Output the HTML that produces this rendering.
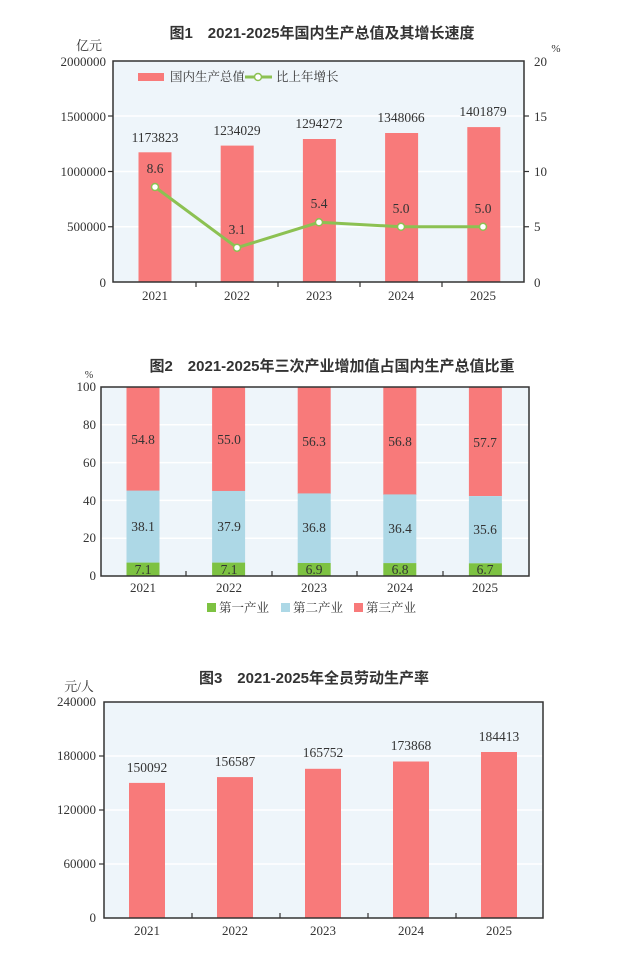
<!DOCTYPE html>
<html><head><meta charset="utf-8"><style>
body{margin:0;background:#fff}
svg text{font-family:"Liberation Serif","Noto Serif CJK SC",serif;fill:#333}
.t{font-family:"Liberation Sans","Noto Sans CJK SC",sans-serif;font-weight:bold;font-size:15px;fill:#333}
</style></head><body>
<svg width="644" height="968" viewBox="0 0 644 968" xmlns="http://www.w3.org/2000/svg">
<!-- Chart 1 -->
<text class="t" x="322" y="38" text-anchor="middle">图1　2021-2025年国内生产总值及其增长速度</text>
<text x="89" y="50" font-size="13" text-anchor="middle">亿元</text>
<text x="556" y="52" font-size="11" text-anchor="middle">%</text>
<rect x="113" y="61" width="411" height="221" fill="#eef5fa"/>
<g stroke="#fff" stroke-width="1.5"><line x1="113" y1="116" x2="524" y2="116"/><line x1="113" y1="171.5" x2="524" y2="171.5"/><line x1="113" y1="226.75" x2="524" y2="226.75"/></g>
<g fill="#f87a7a">
<rect x="138.5" y="152.3" width="33" height="129.7"/><rect x="220.7" y="145.6" width="33" height="136.4"/><rect x="302.9" y="139" width="33" height="143"/><rect x="385.1" y="133" width="33" height="149"/><rect x="467.3" y="127.1" width="33" height="154.9"/>
</g>
<rect x="113" y="61" width="411" height="221" fill="none" stroke="#333" stroke-width="1.5"/>
<g stroke="#333" stroke-width="1.2"><line x1="113" y1="116" x2="108" y2="116"/><line x1="113" y1="171.5" x2="108" y2="171.5"/><line x1="113" y1="226.75" x2="108" y2="226.75"/>
<line x1="524" y1="116" x2="529" y2="116"/><line x1="524" y1="171.5" x2="529" y2="171.5"/><line x1="524" y1="226.75" x2="529" y2="226.75"/>
<line x1="196" y1="282" x2="196" y2="287"/><line x1="278" y1="282" x2="278" y2="287"/><line x1="360" y1="282" x2="360" y2="287"/><line x1="442" y1="282" x2="442" y2="287"/></g>
<g font-size="13" text-anchor="end"><text x="106" y="66">2000000</text><text x="106" y="121">1500000</text><text x="106" y="176">1000000</text><text x="106" y="231">500000</text><text x="106" y="287">0</text></g>
<g font-size="13" text-anchor="start"><text x="534" y="66">20</text><text x="534" y="121">15</text><text x="534" y="176">10</text><text x="534" y="231">5</text><text x="534" y="287">0</text></g>
<g font-size="13" text-anchor="middle"><text x="155" y="300">2021</text><text x="237" y="300">2022</text><text x="319" y="300">2023</text><text x="401" y="300">2024</text><text x="483" y="300">2025</text></g>
<g font-size="13.5" text-anchor="middle"><text x="155" y="142">1173823</text><text x="237" y="135">1234029</text><text x="319" y="128">1294272</text><text x="401" y="122">1348066</text><text x="483" y="116">1401879</text></g>
<polyline points="155,187 237,247.7 319,222.3 401,226.75 483,226.75" fill="none" stroke="#8cc152" stroke-width="3"/>
<g fill="#fff" stroke="#8cc152" stroke-width="1.5"><circle cx="155" cy="187" r="3.5"/><circle cx="237" cy="247.7" r="3.5"/><circle cx="319" cy="222.3" r="3.5"/><circle cx="401" cy="226.75" r="3.5"/><circle cx="483" cy="226.75" r="3.5"/></g>
<g font-size="13.5" text-anchor="middle" style="fill:#5a1a1a"><text x="155" y="173">8.6</text><text x="237" y="234">3.1</text><text x="319" y="208">5.4</text><text x="401" y="213">5.0</text><text x="483" y="213">5.0</text></g>
<rect x="138" y="73" width="26" height="8" fill="#f87a7a"/>
<text x="170" y="81" font-size="12.5">国内生产总值</text>
<line x1="245" y1="77" x2="272" y2="77" stroke="#8cc152" stroke-width="3"/><circle cx="258" cy="77" r="3.5" fill="#fff" stroke="#8cc152" stroke-width="1.5"/>
<text x="276" y="81" font-size="12.5">比上年增长</text>

<!-- Chart 2 -->
<text class="t" x="332" y="371" text-anchor="middle">图2　2021-2025年三次产业增加值占国内生产总值比重</text>
<text x="89" y="378" font-size="10" text-anchor="middle">%</text>
<rect x="101" y="387" width="428" height="189" fill="#eef5fa"/>
<g stroke="#fff" stroke-width="1.5"><line x1="101" y1="424.8" x2="529" y2="424.8"/><line x1="101" y1="462.6" x2="529" y2="462.6"/><line x1="101" y1="500.4" x2="529" y2="500.4"/><line x1="101" y1="538.2" x2="529" y2="538.2"/></g>
<g fill="#f87a7a"><rect x="126.5" y="387" width="33" height="104"/><rect x="212.1" y="387" width="33" height="104"/><rect x="297.7" y="387" width="33" height="107"/><rect x="383.3" y="387" width="33" height="108"/><rect x="468.9" y="387" width="33" height="109"/></g>
<g fill="#add8e6"><rect x="126.5" y="490.6" width="33" height="72"/><rect x="212.1" y="490.95" width="33" height="71.6"/><rect x="297.7" y="493.4" width="33" height="69.6"/><rect x="383.3" y="494.4" width="33" height="68.7"/><rect x="468.9" y="496.1" width="33" height="67.2"/></g>
<g fill="#7dc242"><rect x="126.5" y="562.6" width="33" height="13.4"/><rect x="212.1" y="562.6" width="33" height="13.4"/><rect x="297.7" y="563" width="33" height="13"/><rect x="383.3" y="563.1" width="33" height="12.9"/><rect x="468.9" y="563.3" width="33" height="12.7"/></g>
<rect x="101" y="387" width="428" height="189" fill="none" stroke="#333" stroke-width="1.5"/>
<g stroke="#333" stroke-width="1.2"><line x1="186" y1="576" x2="186" y2="571"/><line x1="272" y1="576" x2="272" y2="571"/><line x1="357" y1="576" x2="357" y2="571"/><line x1="443" y1="576" x2="443" y2="571"/></g>
<g font-size="13" text-anchor="end"><text x="96" y="391">100</text><text x="96" y="429">80</text><text x="96" y="467">60</text><text x="96" y="505">40</text><text x="96" y="542">20</text><text x="96" y="580">0</text></g>
<g font-size="13" text-anchor="middle"><text x="143" y="592">2021</text><text x="229" y="592">2022</text><text x="314" y="592">2023</text><text x="400" y="592">2024</text><text x="485" y="592">2025</text></g>
<g font-size="13.5" text-anchor="middle"><text x="143" y="444">54.8</text><text x="229" y="444">55.0</text><text x="314" y="446">56.3</text><text x="400" y="446">56.8</text><text x="485" y="447">57.7</text>
<text x="143" y="531">38.1</text><text x="229" y="531">37.9</text><text x="314" y="532">36.8</text><text x="400" y="533">36.4</text><text x="485" y="534">35.6</text>
<text x="143" y="574">7.1</text><text x="229" y="574">7.1</text><text x="314" y="574">6.9</text><text x="400" y="574">6.8</text><text x="485" y="574">6.7</text></g>
<rect x="207" y="603" width="9" height="9" fill="#7dc242"/><text x="219" y="612" font-size="12.5">第一产业</text>
<rect x="281" y="603" width="9" height="9" fill="#add8e6"/><text x="293" y="612" font-size="12.5">第二产业</text>
<rect x="354" y="603" width="9" height="9" fill="#f87a7a"/><text x="366" y="612" font-size="12.5">第三产业</text>

<!-- Chart 3 -->
<text class="t" x="314" y="683" text-anchor="middle">图3　2021-2025年全员劳动生产率</text>
<text x="79" y="691" font-size="13" text-anchor="middle">元/人</text>
<rect x="104" y="702" width="439" height="216" fill="#eef5fa"/>
<g stroke="#fff" stroke-width="1.5"><line x1="104" y1="756" x2="543" y2="756"/><line x1="104" y1="810" x2="543" y2="810"/><line x1="104" y1="864" x2="543" y2="864"/></g>
<g fill="#f87a7a"><rect x="129" y="782.9" width="36" height="135.1"/><rect x="217" y="777.1" width="36" height="140.9"/><rect x="305" y="768.8" width="36" height="149.2"/><rect x="393" y="761.5" width="36" height="156.5"/><rect x="481" y="752" width="36" height="166"/></g>
<rect x="104" y="702" width="439" height="216" fill="none" stroke="#333" stroke-width="1.5"/>
<g stroke="#333" stroke-width="1.2"><line x1="104" y1="756" x2="99" y2="756"/><line x1="104" y1="810" x2="99" y2="810"/><line x1="104" y1="864" x2="99" y2="864"/>
<line x1="192" y1="918" x2="192" y2="913"/><line x1="280" y1="918" x2="280" y2="913"/><line x1="368" y1="918" x2="368" y2="913"/><line x1="456" y1="918" x2="456" y2="913"/></g>
<g font-size="13" text-anchor="end"><text x="96" y="706">240000</text><text x="96" y="760">180000</text><text x="96" y="814">120000</text><text x="96" y="868">60000</text><text x="96" y="922">0</text></g>
<g font-size="13" text-anchor="middle"><text x="147" y="935">2021</text><text x="235" y="935">2022</text><text x="323" y="935">2023</text><text x="411" y="935">2024</text><text x="499" y="935">2025</text></g>
<g font-size="13.5" text-anchor="middle"><text x="147" y="772">150092</text><text x="235" y="766">156587</text><text x="323" y="757">165752</text><text x="411" y="750">173868</text><text x="499" y="741">184413</text></g>
</svg>
</body></html>
